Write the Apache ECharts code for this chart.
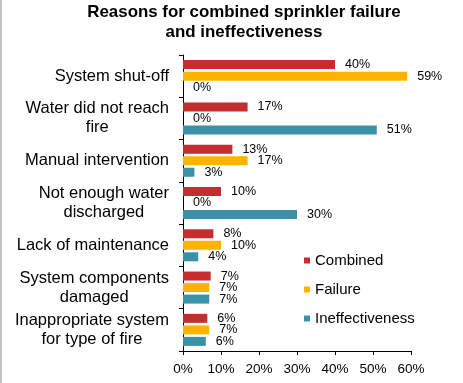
<!DOCTYPE html>
<html>
<head>
<meta charset="utf-8">
<script src="https://cdn.jsdelivr.net/npm/echarts@6/dist/echarts.min.js"></script>
<style>
html,body{margin:0;padding:0;background:#fff;}
#frame{position:absolute;left:0;top:0;width:2px;height:383px;background:#c0c0c0;}
#chart{width:463px;height:383px;}
</style>
</head>
<body>
<div id="chart"></div>
<div id="frame"></div>
<script>
const categories = ["System shut-off", "Water did not reach\nfire", "Manual intervention", "Not enough water\ndischarged", "Lack of maintenance", "System components\ndamaged", "Inappropriate system\nfor type of fire"];
const combined = [40, 17, 13, 10, 8, 7.3, 6.4];
const failure = [59, 0, 17, 0, 10, 6.9, 6.9];
const ineffectiveness = [0, 51, 3, 30, 4, 6.9, 6];
const xTicks = [0, 10, 20, 30, 40, 50, 60];

const FONT = '"Liberation Sans", Arial, sans-serif';
const colors = ['#C62D2E', '#FFB300', '#3A91A8'];

function mk(name, data, color) {
  return {
    name: name, type: 'bar', data: data, barWidth: 9, barGap: '28%',
    itemStyle: {color: color},
    label: {show: true, position: 'right', distance: 10, color: '#000', fontFamily: FONT, fontSize: 12.5,
      formatter: p => Math.round(p.value) + '%'}
  };
}

const chart = echarts.init(document.getElementById('chart'), null, {renderer: 'canvas'});
chart.setOption({
  animation: false,
  textStyle: {fontFamily: FONT},
  title: {
    text: 'Reasons for combined sprinkler failure\nand ineffectiveness',
    left: 244, top: 2, padding: 0, textAlign: 'center',
    textStyle: {fontFamily: FONT, fontSize: 16.9, fontWeight: 'bold', lineHeight: 20, color: '#000'}
  },
  legend: {
    orient: 'vertical', left: 299, top: 248, icon: 'rect', itemWidth: 6, itemHeight: 6, itemGap: 14,
    textStyle: {fontFamily: FONT, fontSize: 15, lineHeight: 15, color: '#000'},
    data: ['Combined', 'Failure', 'Ineffectiveness']
  },
  grid: {left: 183, right: 52, top: 55, bottom: 32, containLabel: false},
  xAxis: {
    type: 'value', min: xTicks[0], max: xTicks[xTicks.length - 1], interval: 10,
    axisLine: {show: true, lineStyle: {color: '#000'}},
    axisTick: {show: true, length: 4, lineStyle: {color: '#000'}},
    splitLine: {show: false},
    axisLabel: {formatter: v => v + '%', fontFamily: FONT, fontSize: 13.5, color: '#000', margin: 11}
  },
  yAxis: {
    type: 'category', data: categories, inverse: true,
    axisLine: {show: true, lineStyle: {color: '#000'}},
    axisTick: {show: true, length: 4, lineStyle: {color: '#000'}},
    axisLabel: {
      fontFamily: FONT, fontSize: 16.5, lineHeight: 19, color: '#000', margin: 14, align: 'right',
      formatter: v => v.split('\n').map(l => '{c|' + l + '}').join('\n'),
      rich: {c: {align: 'center', fontFamily: FONT, fontSize: 16.5, lineHeight: 19, color: '#000'}}
    }
  },
  series: [
    mk('Combined', combined, colors[0]),
    mk('Failure', failure, colors[1]),
    mk('Ineffectiveness', ineffectiveness, colors[2])
  ]
});
</script>
</body>
</html>
